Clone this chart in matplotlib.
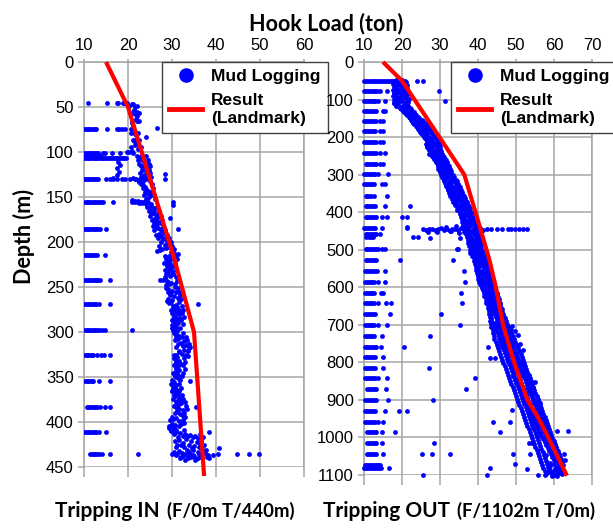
import matplotlib
matplotlib.use("Agg")
import matplotlib.pyplot as plt
from matplotlib.lines import Line2D

plt.rcParams["font.family"] = ["Liberation Sans", "DejaVu Sans"]

# ------------------------------------------------------------------ data
x_ticks_in = [10, 20, 30, 40, 50, 60]
y_ticks_in = [0, 50, 100, 150, 200, 250, 300, 350, 400, 450]
x_ticks_out = [10, 20, 30, 40, 50, 60, 70]
y_ticks_out = [0, 100, 200, 300, 400, 500, 600, 700, 800, 900, 1000, 1100]

# Landmark result (red line)
in_line_depth = [0, 50, 220, 300, 460]
in_line_load = [15, 20, 30.6, 35, 37.3]
out_line_depth = [0, 50, 300, 450, 527, 600, 700, 800, 900, 950, 1000, 1102]
out_line_load = [15, 20, 36.4, 40.8, 43.0, 44.7, 46.6, 49.5, 53.0, 56.0, 58.5, 63.4]

# Mud logging, tripping IN : connection rows (depth, loads)
in_conn = [
    (46, [10.8, 15.3, 17.4, 17.8, 18.8, 19.2, 19.7]),
    (74, [10.0, 10.4, 10.8, 11.2, 11.6, 12.0, 12.4, 12.8, 15.3, 17.4, 18.0, 18.6, 19.3]),
    (101, [10.0, 10.4, 10.8, 11.2, 11.6, 12.0, 12.4, 12.8, 13.2, 14.4, 14.8, 16.3, 18.2, 21.1]),
    (104, [10.0, 10.4, 10.8, 11.2, 11.6, 12.0, 12.4, 12.8, 13.2, 13.6]),
    (107, [10.0, 10.4, 10.8, 11.2, 11.6, 12.0, 12.4, 12.8, 13.2, 13.6, 14.0, 14.4, 14.8,
           15.2, 15.6, 16.0, 16.4, 16.8, 17.2, 17.6, 18.0, 18.4, 18.8, 19.2, 19.6]),
    (130, [10.0, 10.4, 10.8, 11.2, 11.6, 12.0, 12.4, 12.8, 13.2, 15.1, 15.9, 16.7, 17.4,
           18.6, 19.3, 20.5, 21.6, 22.7, 23.5, 24.2, 28.4]),
    (156, [10.2, 10.6, 11.0, 11.4, 11.8, 12.2, 12.6, 13.0, 13.4, 13.8, 14.4, 16.7, 20.8,
           21.5, 22.3, 23.0, 23.8, 24.2, 30.3]),
    (186, [10.0, 10.4, 10.8, 11.2, 11.6, 12.0, 12.4, 12.8, 13.2, 13.6, 15.1]),
    (214, [10.0, 10.4, 10.8, 11.2, 11.6, 12.0, 12.4, 12.9, 14.8]),
    (242, [10.0, 10.4, 10.8, 11.2, 11.6, 12.0, 12.4, 12.8, 13.2, 13.6, 15.8]),
    (269, [10.0, 10.4, 10.8, 11.2, 11.6, 12.0, 12.4, 12.8, 13.3, 15.8]),
    (298, [10.2, 10.6, 11.0, 11.4, 11.8, 12.2, 12.6, 13.0, 13.3, 14.0, 14.8, 21.0]),
    (326, [10.2, 10.6, 11.0, 11.4, 11.8, 12.0, 12.9, 13.8, 14.5, 15.9]),
    (354, [10.2, 10.6, 11.0, 11.4, 11.8, 12.1, 13.4, 15.9]),
    (383, [10.6, 11.0, 11.4, 11.8, 12.2, 12.6, 12.9, 13.6, 14.8, 15.9]),
    (411, [10.0, 10.4, 10.8, 11.2, 11.6, 12.0, 12.4, 12.8, 13.3, 15.0]),
    (436, [11.4, 11.8, 12.2, 12.6, 13.0, 13.4, 14.2, 15.9, 22.2, 29.9]),
]

# Mud logging, tripping IN : main trend (depth, loads)
in_trend = [
    (47, [20.8, 21.2]), (50, [21.6]), (53, [21.4]), (55, [22.0]), (58, [21.7]), (60, [22.1]),
    (63, [21.8]), (66, [22.0]), (68, [20.9]), (71, [21.2]), (73, [26.5]), (74, [20.6]),
    (76, [21.0]), (78, [21.5]), (80, [21.7]), (83, [24.0]), (85, [21.9]), (88, [21.3]),
    (90, [22.0]), (92, [21.5]), (95, [22.6]), (97, [22.3]), (99, [21.0]), (100, [19.7, 20.3]),
    (103, [23.1]), (105, [22.8]), (106, [23.5]), (108, [22.9]), (110, [23.3]), (111, [17.8]),
    (112, [23.8]), (114, [23.6, 18.2]), (115, [24.1]), (117, [23.9]), (118, [17.4]),
    (119, [24.3]), (121, [24.0]), (122, [18.0]), (124, [28.4]), (125, [23.7]), (126, [17.6]),
    (127, [24.4]), (129, [21.2, 16.7]), (130, [21.8]), (131, [22.3]), (133, [22.6]),
    (135, [23.1]), (137, [23.4]), (139, [23.9]), (141, [24.1]), (143, [24.6]), (145, [24.2]),
    (147, [24.8]), (149, [25.0]), (151, [24.5]), (153, [20.8]), (154, [21.6, 22.2]),
    (155, [22.8, 23.4]), (156, [23.9, 24.5]), (157, [23.2, 22.6]), (158, [25.2, 24.0]),
    (159, [30.3]), (160, [25.3]), (162, [25.8]), (164, [25.1]), (166, [26.0]), (168, [25.6]),
    (170, [26.4]), (172, [26.9]), (173, [29.5]), (174, [25.9]), (176, [26.3]), (178, [27.0]),
    (180, [26.6]), (182, [25.7]), (184, [26.8]), (185, [31.4]), (186, [27.3]), (188, [27.8]),
    (190, [28.2]), (191, [27.1]), (193, [27.6]), (195, [28.5]), (197, [28.0]), (199, [28.8]),
    (201, [29.1]), (203, [28.4]), (205, [29.4]), (207, [28.7]), (209, [27.2]), (210, [26.6]),
    (211, [29.8]), (212, [30.5]), (213, [31.4]), (214, [30.0]), (216, [29.3]), (218, [30.2]),
    (220, [29.6]), (222, [29.0]), (224, [29.5]), (226, [28.8]), (228, [29.8]), (230, [29.3]),
    (232, [29.9]), (234, [29.1]), (236, [30.3]), (238, [29.6]), (240, [28.4]), (242, [27.3, 27.9]),
    (244, [29.0]), (246, [29.8]), (248, [28.7]), (250, [30.6]), (252, [29.2]), (254, [30.1]),
    (256, [31.0]), (258, [29.5]), (260, [30.4]), (262, [31.3]), (264, [30.0]), (266, [28.9]),
    (268, [29.4]), (269, [36.0]), (270, [30.8]), (272, [31.2]), (274, [30.4]), (276, [31.6]),
    (278, [30.9]), (280, [31.5]), (282, [30.6]), (284, [31.8]), (286, [31.1]), (288, [30.5]),
    (290, [31.4]), (292, [30.0]), (294, [30.8]), (296, [29.9]), (298, [30.3]), (299, [31.2]),
    (302, [31.0]), (304, [31.6]), (306, [32.2]), (308, [31.3]), (310, [32.8]), (312, [32.0]),
    (314, [33.2]), (316, [32.5]), (318, [33.9]), (320, [32.8]), (322, [31.5]), (324, [32.3]),
    (326, [30.4]), (327, [33.7]), (328, [31.2]), (330, [30.6]), (332, [31.7]), (334, [30.9]),
    (336, [32.1]), (338, [31.4]), (340, [30.8]), (342, [31.6]), (344, [31.1]), (346, [30.6]),
    (348, [31.3]), (350, [31.0]), (352, [31.5]), (354, [34.1]), (355, [30.5]), (357, [30.2]),
    (359, [31.0]), (361, [30.4]), (363, [30.8]), (365, [30.1]), (367, [30.9]), (369, [31.4]),
    (371, [30.7]), (373, [31.5]), (375, [31.9]), (377, [31.2]), (379, [32.0]), (381, [31.3]),
    (383, [35.4, 30.8]), (385, [31.7]), (387, [32.4]), (389, [31.1]), (391, [31.9]),
    (393, [32.6]), (395, [31.0]), (397, [30.3]), (399, [31.6]), (401, [32.8]), (403, [30.6]),
    (405, [29.9]), (406, [30.5]), (407, [29.4]), (408, [30.2]), (409, [31.0]), (410, [29.8]),
    (411, [38.3, 30.9]), (412, [31.8]), (413, [33.0]), (414, [34.2]), (415, [35.3, 33.6]),
    (416, [32.4]), (417, [34.8]), (418, [36.0]), (419, [33.1]), (420, [31.7]), (421, [34.4]),
    (422, [35.7]), (423, [32.6]), (424, [36.4]), (425, [33.9]), (426, [31.2]), (427, [35.1]),
    (428, [32.8]), (429, [34.6, 40.7]), (430, [36.8]), (431, [33.3]), (432, [31.6]),
    (433, [35.8]), (434, [37.5, 32.2]), (435, [34.0, 40.4]), (436, [36.2, 31.1, 44.7, 47.6, 49.8]),
    (437, [33.5, 38.1, 39.3]), (438, [35.0, 32.4]), (439, [36.6, 34.3]), (440, [31.9, 33.7]),
    (441, [35.5]),
]

# further tripping-IN readings filling the width of the trend band
in_trend_band = [
    (49, [20.3, 22.0]), (57, [20.8, 22.4]), (65, [21.0, 22.5]), (79, [20.7, 22.2]),
    (87, [21.1, 22.6]), (94, [20.6, 22.9]), (104, [22.1, 24.0]), (109, [22.3, 24.5]),
    (113, [22.6, 24.8]), (116, [22.9, 25.0]), (120, [23.2, 24.7]), (123, [22.8, 25.1]),
    (128, [23.0, 25.3]), (132, [23.4, 24.9]), (136, [22.9, 25.4]), (140, [23.3, 25.6]),
    (144, [23.8, 25.2]), (148, [23.6, 25.9]), (152, [24.0, 26.1]), (161, [24.4, 26.7]),
    (165, [24.8, 27.1]), (169, [25.2, 26.9]), (171, [24.9, 27.4]), (175, [25.5, 27.8]),
    (179, [25.8, 27.5]), (183, [26.1, 28.0]), (187, [25.9, 28.5]), (192, [26.4, 28.9]),
    (196, [26.9, 29.4]), (200, [27.4, 29.7]), (204, [27.0, 30.1]), (208, [27.8, 30.4]),
    (215, [28.3, 30.9]), (219, [28.6, 31.1]), (223, [28.2, 30.6]), (227, [28.9, 30.4]),
    (231, [28.5, 30.8]), (235, [28.7, 30.2]), (239, [28.3, 30.9]), (243, [28.8, 31.2]),
    (247, [29.3, 30.7]), (251, [28.6, 31.4]), (255, [29.1, 31.6]), (259, [29.6, 31.9]),
    (263, [29.2, 32.0]), (267, [29.8, 31.7]), (271, [30.2, 32.2]), (275, [29.7, 32.5]),
    (279, [30.1, 32.3]), (283, [30.4, 32.7]), (287, [29.9, 32.1]), (291, [30.6, 32.4]),
    (295, [30.3, 31.9]), (301, [30.5, 32.6]), (305, [30.9, 33.1]), (309, [30.6, 33.5]),
    (313, [31.3, 33.8]), (317, [31.0, 34.2]), (321, [31.6, 33.6]), (325, [30.8, 33.2]),
    (329, [30.5, 32.8]), (333, [30.9, 33.0]), (337, [30.4, 32.6]), (341, [31.0, 32.9]),
    (345, [30.3, 32.4]), (349, [30.7, 32.2]), (353, [30.1, 31.9]), (358, [29.8, 31.7]),
    (362, [30.3, 32.0]), (366, [29.9, 31.6]), (370, [30.5, 32.3]), (374, [30.2, 32.6]),
    (378, [30.8, 32.9]), (382, [30.4, 33.2]), (386, [31.1, 33.4]), (390, [30.6, 32.8]),
    (394, [30.1, 33.0]), (398, [29.6, 32.4]), (402, [30.0, 32.0]), (404, [29.3, 31.5]),
    (409, [29.7, 32.8]), (413, [30.4, 36.3]), (417, [31.3, 37.0]), (421, [30.7, 36.6]),
    (425, [32.1, 37.3]), (428, [30.9, 36.1]), (431, [34.8, 37.8]), (433, [30.5, 33.9]),
    (435, [32.9, 36.9]), (437, [30.8, 34.7]), (439, [32.0, 37.9]), (440, [35.9, 38.4]),
    (442, [33.0, 35.2]),
]

# Mud logging, tripping OUT : connection rows (depth, loads)
out_conn = [
    (50, [10.0, 10.5, 11.0, 11.5, 12.0, 12.5, 13.0, 13.5, 14.0, 14.5, 15.0, 15.5, 16.0,
          16.5, 17.0, 17.5, 18.0, 18.5, 19.0, 19.5, 24.0, 25.6]),
    (77, [10.0, 10.5, 11.0, 11.5, 12.0, 12.5, 13.0, 13.5, 14.2, 16.0, 29.8]),
    (104, [10.0, 10.5, 11.0, 11.5, 12.0, 12.5, 13.0, 13.8, 15.5, 31.3]),
    (130, [10.0, 10.5, 11.0, 11.5, 12.0, 12.5, 13.2, 15.1, 15.6]),
    (157, [10.0, 10.5, 11.0, 11.5, 12.0, 12.5, 13.2, 14.2, 15.1]),
    (184, [10.0, 10.5, 11.0, 11.5, 12.0, 12.5, 12.9, 14.2, 15.1]),
    (212, [10.0, 10.5, 11.0, 11.5, 12.0, 12.5, 13.2, 14.2, 15.1]),
    (243, [10.0, 10.5, 11.0, 11.5, 12.0, 12.5, 13.2, 14.2, 15.5]),
    (272, [10.4, 10.9, 11.4, 11.9, 12.4, 12.8, 13.2, 14.2, 15.1]),
    (298, [10.0, 10.5, 11.0, 11.5, 12.0, 12.5, 12.9, 13.8, 16.4]),
    (326, [10.0, 10.5, 11.0, 11.5, 12.0, 12.5, 14.7, 15.5]),
    (356, [10.4, 10.9, 11.4, 11.9, 12.5, 16.0]),
    (383, [10.4, 10.9, 11.4, 11.9, 12.4, 12.9, 15.5, 22.1]),
    (412, [10.4, 10.9, 11.4, 11.9, 12.4, 12.8, 13.2, 14.7, 16.0, 19.9, 21.2]),
    (443, [10.0, 10.5, 11.0, 11.5, 12.0, 12.5, 12.9, 14.7, 21.2]),
    (459, [10.4, 10.9, 11.4, 11.9, 12.4, 12.8, 13.2, 14.2]),
    (465, [10.6, 11.2, 11.8, 12.4, 23.0, 24.3]),
    (498, [10.4, 10.9, 11.4, 11.9, 12.4, 12.8, 13.2, 13.6, 14.7, 15.5, 34.8]),
    (527, [10.4, 10.9, 11.4, 11.9, 12.4, 12.8, 13.2, 19.5, 33.5]),
    (557, [10.3, 10.8, 11.3, 11.8, 12.3, 12.8, 13.3, 15.5, 36.3]),
    (587, [10.3, 10.8, 11.3, 11.8, 12.2, 12.5, 13.8, 15.5, 36.6]),
    (614, [10.3, 10.8, 11.3, 11.8, 12.2, 12.5, 14.5, 15.1, 35.4]),
    (643, [10.3, 10.8, 11.3, 11.8, 12.2, 12.5, 13.8, 15.9, 17.2, 35.7]),
    (671, [10.3, 10.8, 11.3, 11.8, 12.3, 12.9, 16.8, 30.2]),
    (700, [10.3, 10.8, 11.3, 11.8, 12.2, 12.5, 13.8, 16.0, 35.3]),
    (729, [10.3, 10.8, 11.3, 11.8, 12.2, 12.5, 14.7, 27.4]),
    (758, [10.3, 10.8, 11.3, 11.8, 12.3, 12.8, 13.2, 14.5, 20.4]),
    (787, [10.3, 10.8, 11.3, 11.8, 12.3, 12.9, 15.1]),
    (814, [10.3, 10.8, 11.3, 11.8, 12.3, 12.9, 14.9, 27.2]),
    (842, [10.3, 10.8, 11.3, 11.8, 12.3, 12.9, 13.8, 16.0, 39.2]),
    (871, [10.8, 11.3, 11.8, 12.3, 12.8, 13.2, 15.8, 36.8]),
    (900, [10.3, 10.8, 11.3, 11.8, 12.3, 12.8, 13.2, 16.2, 28.2]),
    (929, [10.3, 10.8, 11.3, 11.8, 12.3, 12.9, 15.5, 19.3, 21.4]),
    (958, [10.3, 10.8, 11.3, 11.8, 12.3, 12.9, 13.8, 15.1, 44.0, 48.3]),
    (986, [10.8, 11.3, 11.8, 12.3, 12.8, 13.2, 14.7, 18.2, 45.8]),
    (1015, [10.8, 11.3, 11.8, 12.3, 12.8, 13.2, 14.7, 28.4]),
    (1044, [10.8, 11.3, 11.8, 12.3, 12.8, 13.2, 15.1, 25.2, 27.8, 32.6]),
    (1074, [10.3, 10.8, 11.3, 11.8, 12.3, 12.8, 13.3, 13.8, 14.2]),
    (1081, [10.0, 10.5, 11.0, 11.5, 12.0, 12.5, 13.0, 13.5, 14.0, 14.6, 16.7, 43.2]),
    (1100, [25.4, 42.4]),
]

# Mud logging, tripping OUT : main trend (depth, loads)
out_trend = [
    (48, [18.5, 20.0]), (52, [19.2, 17.6]), (56, [20.1]), (60, [18.8, 19.6]), (64, [20.4]),
    (68, [18.2, 19.9]), (72, [19.4]), (76, [20.6, 18.7]), (80, [19.1]), (84, [20.3, 17.9]),
    (88, [19.7]), (92, [18.6, 20.8]), (96, [19.3]), (100, [20.1, 18.4]), (104, [19.6]),
    (108, [20.5, 17.8]), (112, [19.0]), (116, [20.2, 18.3]), (120, [19.5]), (124, [20.9, 19.8]),
    (128, [21.3]), (132, [21.8, 20.7]), (136, [22.3]), (140, [21.6, 22.8]), (144, [22.1]),
    (148, [23.0, 22.5]), (152, [23.4]), (156, [22.6, 24.1]), (160, [23.8, 25.0]),
    (164, [24.5, 23.2]), (168, [25.3, 24.0]), (172, [24.8, 25.9]), (176, [24.2, 26.1]),
    (180, [25.5]), (184, [26.4, 24.9]), (188, [25.8]), (192, [26.7, 25.2]), (196, [26.2]),
    (200, [27.0, 25.9]), (204, [26.6, 27.8]), (208, [27.3]), (212, [28.2, 26.8]),
    (216, [27.6, 29.0]), (220, [28.4]), (224, [27.1, 28.9]), (228, [28.0]), (232, [27.4, 29.3]),
    (236, [28.7]), (240, [27.9, 29.6]), (244, [28.5]), (248, [29.2, 28.0]), (252, [29.8]),
    (256, [28.8, 30.2]), (260, [29.5]), (264, [30.6, 29.9]), (268, [30.1]), (272, [31.0, 29.7]),
    (276, [30.4]), (280, [31.3, 30.0]), (284, [30.8]), (288, [29.9, 31.5]), (292, [30.7]),
    (296, [31.8, 30.3]), (300, [31.2]), (304, [32.0, 30.8]), (308, [31.5]), (312, [32.6, 31.1]),
    (316, [33.2]), (320, [32.3, 33.9]), (324, [31.8]), (328, [32.9, 34.4]), (332, [33.4]),
    (336, [32.5, 34.0]), (340, [33.7]), (344, [34.6, 32.8]), (348, [33.3]), (352, [34.9, 33.8]),
    (356, [34.3, 32.6]), (360, [35.1]), (364, [33.9, 35.6]), (368, [34.7]), (372, [35.4, 33.5]),
    (376, [36.0]), (380, [34.8, 35.9]), (384, [36.4]), (388, [35.5, 37.0]), (392, [36.1]),
    (396, [36.8, 35.2]), (400, [37.3]), (404, [36.2, 37.7]), (408, [36.9]), (412, [37.5, 36.4]),
    (416, [38.0]), (420, [36.7, 37.8]), (424, [37.2]), (428, [38.3, 36.9]), (432, [37.6]),
    (436, [38.0, 37.1]), (438, [34.2]), (440, [31.5, 21.2]), (442, [39.8]),
    (443, [30.3, 35.5]), (444, [27.2, 33.2, 37.0]), (445, [25.6, 29.5, 31.8, 39.1, 42.3, 43.4,
    44.9, 46.2, 47.9, 48.8, 49.8, 50.8, 51.8, 52.8]), (446, [28.0, 34.0, 36.2, 40.6]),
    (447, [26.4, 31.0, 37.7]), (448, [28.8, 34.7, 41.4]), (449, [32.5, 38.4]),
    (450, [33.0, 39.5]), (452, [26.8, 29.2, 38.2]), (454, [36.8]), (455, [35.0]),
    (456, [38.6, 37.4]), (460, [39.2]), (464, [37.8, 39.9]), (468, [38.5]), (470, [27.4, 35.3]),
    (472, [39.6, 37.5]), (476, [38.9]), (480, [40.2, 38.1]), (484, [39.4]), (488, [38.3, 40.5]),
    (492, [39.0]), (496, [40.0, 38.7]), (498, [34.4]), (500, [39.5]), (504, [38.4, 40.3]),
    (508, [39.8]), (512, [40.6, 39.1]), (516, [39.5]), (520, [40.9, 39.9]), (524, [40.2]),
    (528, [41.2, 39.6]), (532, [40.6]), (536, [41.7, 40.0]), (540, [41.1]), (544, [42.2, 40.5]),
    (548, [41.5]), (552, [40.1, 42.6]), (556, [41.0]), (560, [42.0, 40.4]), (564, [41.3]),
    (568, [40.2, 42.5]), (572, [41.8]), (576, [40.7, 42.9]), (580, [41.6]), (584, [42.4, 40.9]),
    (588, [41.9]), (592, [43.0, 41.2]), (596, [42.3]), (600, [41.7, 43.4]), (604, [42.6]),
    (608, [43.8, 42.1]), (612, [42.9]), (616, [42.4, 44.0]), (620, [43.2]), (624, [44.3, 42.7]),
    (628, [43.6]), (632, [42.9, 44.6]), (636, [43.9]), (640, [43.2, 45.0]), (644, [44.2]),
    (648, [43.6, 45.3]), (652, [44.5]), (656, [43.8, 45.6]), (660, [44.8]), (664, [44.0, 45.9]),
    (668, [45.1]), (672, [44.4, 46.2]), (676, [45.4]), (680, [44.7, 46.0]), (684, [45.6]),
    (688, [44.9, 46.5]), (692, [45.8]), (696, [45.2, 46.9]), (700, [46.1]),
    (704, [45.0, 47.2, 49.0]), (708, [46.4]), (712, [45.5, 47.6]), (716, [46.8, 49.8]),
    (720, [45.8, 47.9]), (724, [46.5]), (728, [47.3, 45.6, 50.4]), (732, [46.9]),
    (736, [48.0, 46.2]), (740, [47.4]), (744, [46.6, 48.4]), (748, [47.8]),
    (752, [46.9, 48.9, 51.0]), (756, [47.5]), (760, [48.5, 46.4, 42.7]), (764, [47.9]),
    (768, [49.1, 47.2, 51.8]), (772, [48.3]), (776, [47.6, 49.5]), (780, [48.8]),
    (784, [47.8, 50.0]), (788, [48.9, 43.2, 44.5]), (792, [49.4]), (796, [48.1, 50.3]),
    (800, [49.2]), (804, [48.4, 50.6]), (808, [49.7]), (812, [48.8, 51.0]), (816, [49.9]),
    (820, [49.0, 51.3]), (824, [50.2]), (828, [49.4, 51.6]), (832, [50.5]), (836, [49.3, 51.9]),
    (840, [50.8]), (844, [49.8, 52.3]), (848, [51.1]), (852, [50.1, 52.6, 55.0]), (856, [51.4]),
    (860, [50.5, 52.9]), (864, [51.7]), (868, [50.8, 53.2, 54.6]), (872, [52.0]),
    (876, [51.1, 53.5]), (880, [52.3]), (884, [51.5, 53.8]), (888, [52.6]), (892, [51.9, 54.1]),
    (896, [52.9]), (900, [52.2, 54.4]), (904, [53.2]), (908, [52.6, 54.8, 56.3]), (912, [53.6]),
    (916, [52.9, 55.2]), (920, [54.0]), (924, [53.3, 55.6]), (928, [54.4, 48.9]),
    (932, [53.7, 56.0]), (936, [54.8]), (940, [54.1, 56.4]), (944, [55.2]), (948, [54.4, 56.8]),
    (952, [55.6]), (956, [54.8, 57.2]), (960, [56.0]), (964, [55.2, 57.6]), (968, [56.4]),
    (972, [55.5, 58.0]), (976, [56.8]), (980, [55.9, 58.4]), (984, [57.2, 60.7, 63.8]),
    (988, [56.3]), (992, [57.6, 58.8]), (996, [56.7]), (1000, [58.0, 59.3]), (1004, [57.1]),
    (1008, [58.4, 59.8]), (1012, [57.5]), (1016, [58.8, 54.1, 53.3]), (1020, [57.9, 60.2]),
    (1024, [59.2]), (1028, [58.3, 60.6]), (1032, [59.6]), (1036, [58.7, 61.0]), (1040, [60.0]),
    (1044, [59.1, 61.4, 62.6, 49.3, 53.7]), (1048, [60.4, 58.0]), (1052, [59.5, 61.7]),
    (1056, [60.8]), (1060, [59.9, 62.0, 62.9]), (1064, [60.4]), (1068, [58.9, 61.3]),
    (1072, [60.1, 49.7]), (1076, [59.0, 61.6]), (1080, [60.6]), (1084, [58.6, 61.1, 52.8]),
    (1088, [59.9]), (1092, [58.2, 60.9]), (1096, [59.4, 61.9]), (1100, [57.6, 60.2, 55.8]),
]

# further tripping-OUT readings filling the width of the trend band
out_trend_band = [
    (50, [17.4, 20.8]), (54, [18.0, 21.0]), (58, [17.6, 20.4]), (62, [18.3, 21.2]),
    (66, [17.9, 20.7]), (70, [18.5, 21.4]), (74, [17.7, 20.2]), (78, [18.1, 21.0]),
    (82, [17.8, 20.9]), (86, [18.4, 21.5]), (90, [17.5, 20.6]), (94, [18.2, 21.1]),
    (98, [18.9, 21.8]), (102, [18.0, 21.3]), (106, [18.6, 21.6]), (110, [17.9, 20.8]),
    (114, [18.4, 21.2]), (118, [18.8, 21.7]), (122, [19.4, 22.0]), (126, [19.9, 22.4]),
    (130, [20.2, 22.6]), (134, [20.6, 23.1]), (138, [21.0, 23.4]), (142, [21.4, 23.7]),
    (146, [21.8, 24.2]), (150, [22.0, 24.6]), (154, [22.3, 25.3]), (158, [22.7, 25.6]),
    (162, [23.0, 26.0]), (166, [23.4, 26.3]), (170, [23.6, 26.6]), (174, [23.9, 27.0]),
    (178, [24.3, 26.8]), (182, [24.6, 27.3]), (186, [24.8, 27.5]), (190, [25.1, 27.9]),
    (194, [25.5, 28.2]), (198, [25.8, 28.4]), (202, [26.1, 28.9]), (206, [26.3, 29.3]),
    (210, [26.6, 29.5]), (214, [26.9, 29.8]), (218, [26.4, 29.4]), (222, [26.7, 29.9]),
    (226, [26.5, 29.6]), (230, [26.8, 30.1]), (234, [27.0, 29.8]), (238, [27.3, 30.3]),
    (242, [27.6, 30.0]), (246, [27.2, 30.5]), (250, [27.8, 30.8]), (254, [28.1, 31.0]),
    (258, [28.4, 31.3]), (262, [28.7, 31.6]), (266, [29.0, 31.9]), (270, [29.3, 31.7]),
    (274, [29.6, 32.1]), (278, [29.4, 32.4]), (282, [29.8, 32.0]), (286, [29.5, 32.6]),
    (290, [29.9, 32.9]), (294, [30.1, 32.5]), (298, [30.4, 33.0]), (302, [30.2, 33.4]),
    (306, [30.6, 33.8]), (310, [30.9, 33.5]), (314, [31.2, 34.1]), (318, [31.0, 34.5]),
    (322, [31.4, 34.2]), (326, [31.7, 34.8]), (330, [31.5, 35.0]), (334, [31.9, 35.3]),
    (338, [32.2, 35.0]), (342, [32.0, 35.5]), (346, [32.5, 35.8]), (350, [32.3, 35.4]),
    (354, [32.8, 36.0]), (358, [33.0, 36.3]), (362, [33.3, 36.6]), (366, [33.1, 36.2]),
    (370, [33.6, 36.9]), (374, [33.9, 37.1]), (378, [34.2, 36.8]), (382, [34.0, 37.3]),
    (386, [34.5, 37.6]), (390, [34.8, 37.9]), (394, [34.6, 37.4]), (398, [35.1, 38.0]),
    (402, [35.4, 38.3]), (406, [35.2, 37.9]), (410, [35.7, 38.4]), (414, [35.5, 38.7]),
    (418, [35.9, 38.2]), (422, [36.1, 38.6]), (426, [35.8, 39.0]), (430, [36.3, 38.8]),
    (434, [36.0, 39.2]), (438, [36.5, 39.5]), (441, [35.8, 38.9, 40.4]), (452, [36.4, 39.6]),
    (458, [36.9, 40.1]), (462, [37.3, 39.8]), (466, [37.0, 40.3]), (474, [37.4, 40.6]),
    (478, [37.8, 40.0]), (482, [37.3, 40.8]), (486, [37.9, 40.5]), (490, [37.6, 40.9]),
    (494, [38.1, 40.6]), (502, [37.9, 41.0]), (506, [38.3, 40.7]), (510, [38.0, 41.2]),
    (514, [38.6, 40.9]), (518, [38.3, 41.5]), (522, [38.9, 41.3]), (526, [39.2, 41.8]),
    (530, [39.0, 42.1]), (534, [39.4, 42.4]), (538, [39.2, 42.0]), (542, [39.7, 42.7]),
    (546, [39.5, 42.3]), (550, [39.8, 42.8]), (554, [39.6, 43.0]), (558, [40.0, 42.6]),
    (562, [39.7, 43.1]), (566, [40.1, 43.3]), (570, [39.9, 42.9]), (574, [40.3, 43.4]),
    (578, [40.0, 43.6]), (582, [40.4, 43.2]), (586, [40.2, 43.7]), (590, [40.6, 44.0]),
    (594, [40.9, 43.8]), (598, [41.2, 44.2]), (602, [41.0, 44.5]), (606, [41.4, 44.1]),
    (610, [41.7, 44.6]), (614, [41.5, 44.9]), (618, [41.9, 45.1]), (622, [41.6, 44.8]),
    (626, [42.0, 45.2]), (630, [42.3, 45.5]), (634, [42.1, 45.0]), (638, [42.5, 45.4]),
    (642, [42.2, 45.7]), (646, [42.6, 45.9]), (650, [42.9, 45.5]), (654, [42.7, 46.0]),
    (658, [43.0, 46.2]), (662, [42.8, 45.8]), (666, [43.2, 46.3]), (670, [43.0, 46.6]),
    (674, [43.4, 46.4]), (678, [43.1, 46.8]), (682, [43.5, 47.0]), (686, [43.3, 46.7]),
    (690, [43.1, 47.4]), (694, [44.2, 46.8]), (698, [43.5, 47.7]), (702, [44.6, 47.0]),
    (706, [43.3, 48.2]), (710, [44.8, 47.5]), (714, [43.9, 48.6]), (718, [45.1, 47.3]),
    (722, [44.0, 48.8]), (726, [45.4, 47.9]), (730, [44.3, 49.1]), (734, [45.6, 48.3]),
    (738, [44.2, 49.4]), (742, [45.9, 48.6]), (746, [44.7, 49.8]), (750, [46.1, 48.9]),
    (754, [44.9, 50.2]), (758, [46.5, 49.2]), (762, [45.3, 50.5]), (766, [46.8, 49.6]),
    (770, [45.6, 50.9]), (774, [47.1, 49.9]), (778, [45.8, 51.2]), (782, [47.4, 50.3]),
    (786, [46.1, 51.5]), (790, [47.7, 50.6]), (794, [46.4, 51.8]), (798, [48.0, 51.0]),
    (802, [46.7, 52.1]), (806, [48.3, 51.3]), (810, [47.0, 52.4]), (814, [48.6, 51.6]),
    (818, [47.3, 52.7]), (822, [48.9, 51.9]), (826, [47.6, 53.0]), (830, [49.2, 52.2]),
    (834, [47.9, 53.3]), (838, [49.5, 52.5]), (842, [48.2, 53.6]), (846, [49.8, 52.8]),
    (850, [48.5, 53.9]), (854, [50.1, 53.1]), (858, [48.8, 54.2]), (862, [50.4, 53.4]),
    (866, [49.1, 54.5]), (870, [50.7, 53.7]), (874, [49.4, 54.8]), (878, [51.0, 54.0]),
    (882, [49.7, 55.1]), (886, [51.3, 54.3]), (890, [50.0, 55.4]), (894, [51.6, 54.6]),
    (898, [50.3, 55.7]), (902, [51.9, 54.9]), (906, [50.6, 56.0]), (910, [52.2, 55.2]),
    (914, [50.9, 56.3]), (918, [52.5, 55.5]), (922, [51.2, 56.6]), (926, [52.8, 55.8]),
    (930, [51.5, 56.9]), (934, [53.1, 56.1]), (938, [51.8, 57.2]), (942, [53.4, 56.4]),
    (946, [52.1, 57.5]), (950, [53.7, 56.7]), (954, [52.4, 57.8]), (958, [54.0, 57.0]),
    (962, [52.7, 58.1]), (966, [54.3, 57.3]), (970, [53.0, 58.4]), (974, [54.6, 57.6]),
    (978, [53.3, 58.7]), (982, [54.9, 57.9]), (986, [53.6, 59.0]), (990, [55.2, 58.2]),
    (994, [53.9, 59.3]), (998, [55.5, 58.5]), (1002, [54.2, 59.6]), (1006, [55.8, 58.8]),
    (1010, [54.5, 59.9]), (1014, [56.1, 59.1]), (1018, [54.8, 60.2]), (1022, [56.4, 59.4]),
    (1026, [55.1, 60.5]), (1030, [56.7, 59.7]), (1034, [55.4, 60.8]), (1038, [57.0, 60.0]),
    (1042, [55.7, 61.1]), (1046, [57.3, 60.3]), (1050, [56.0, 61.4]), (1054, [57.6, 60.6]),
    (1058, [56.3, 61.7]), (1062, [57.9, 60.9]), (1066, [56.6, 62.0]), (1070, [58.2, 61.2]),
    (1074, [56.9, 62.3]), (1078, [58.5, 61.5]), (1082, [57.2, 62.1]), (1086, [58.8, 61.8]),
    (1090, [57.5, 62.4]), (1094, [59.1, 61.0]), (1098, [57.8, 62.2]), (1102, [59.4, 60.8]),
]

labels_legend = ["Mud Logging", "Result\n(Landmark)"]
x_label = "Hook Load (ton)"
y_label = "Depth (m)"
panel_titles = [("Tripping IN", "(F/0m T/440m)"), ("Tripping OUT", "(F/1102m T/0m)")]

# ------------------------------------------------------------------ style
BLUE = "#0000FF"
RED = "#FF0000"
GRID = "#A6A6A6"
TITLEFONT = "Lato"
W, H = 613, 528
DOT = 12


def flatten(*groups):
    d, l = [], []
    for rows in groups:
        for depth, loads in rows:
            for v in loads:
                d.append(depth)
                l.append(v)
    return d, l


fig = plt.figure(figsize=(W / 100, H / 100), dpi=100)


def make_axes(px_left, px_right, px_top, px_bottom):
    return fig.add_axes([px_left / W, 1 - px_bottom / H,
                         (px_right - px_left) / W, (px_bottom - px_top) / H])


def style(ax, xt, yt, xmax, ymax):
    ax.set_xlim(10, xmax)
    ax.set_ylim(ymax, 0)
    ax.set_xticks(xt)
    ax.set_yticks(yt)
    ax.grid(True, color=GRID, linewidth=1.1)
    ax.set_axisbelow(True)
    for s in ["left", "top", "right"]:
        ax.spines[s].set_color(GRID)
        ax.spines[s].set_linewidth(1.1)
    ax.spines["bottom"].set_visible(False)
    ax.tick_params(axis="x", which="both", top=True, bottom=True, labeltop=True,
                   labelbottom=False, colors=GRID, labelcolor="black",
                   labelsize=12, width=1.1, length=2.2, pad=4.5)
    ax.tick_params(axis="y", which="both", left=True, right=False, colors=GRID,
                   labelcolor="black", labelsize=12, length=4.3, width=1.1, pad=3)
    for t in ax.xaxis.get_major_ticks():
        t.tick1line.set_markersize(7)


def add_legend(ax, x_axes):
    handles = [Line2D([], [], marker="o", color=BLUE, linestyle="none", markersize=9.5),
               Line2D([], [], color=RED, linewidth=3.5)]
    leg = ax.legend(handles, labels_legend, loc="upper left",
                    bbox_to_anchor=(x_axes, 1.0), borderaxespad=0,
                    frameon=True, fancybox=False, edgecolor="#404040",
                    framealpha=1, handlelength=1.9, handletextpad=0.5,
                    borderpad=0.42, labelspacing=0.5,
                    prop={"weight": "bold", "size": 12.5})
    leg.get_frame().set_linewidth(1.0)
    leg.set_zorder(10)
    return leg


# ---------------- left panel: tripping IN
ax1 = make_axes(84, 304, 62, 467)
style(ax1, x_ticks_in, y_ticks_in, 60, 450)
d, l = flatten(in_conn, in_trend, in_trend_band)
ax1.scatter(l, d, s=DOT, color=BLUE, linewidths=0, zorder=3)
ax1.plot(in_line_load, in_line_depth, color=RED, linewidth=3, zorder=4,
         clip_on=False, solid_capstyle="butt")
add_legend(ax1, (162 - 84) / 220)

# ---------------- right panel: tripping OUT
ax2 = make_axes(364, 592, 62, 475)
style(ax2, x_ticks_out, y_ticks_out, 70, 1100)
d, l = flatten(out_conn, out_trend, out_trend_band)
ax2.scatter(l, d, s=DOT, color=BLUE, linewidths=0, zorder=3, clip_on=False)
ax2.plot(out_line_load, out_line_depth, color=RED, linewidth=3, zorder=4,
         clip_on=False, solid_capstyle="butt")
add_legend(ax2, (451 - 364) / 228)

# ---------------- texts
fig.text(326 / W, 1 - 30 / H, x_label, ha="center", va="baseline",
         fontsize=15.5, fontweight="bold", family=TITLEFONT)
fig.text(24 / W, 1 - 236 / H, y_label, ha="center", va="center", rotation=90,
         fontsize=15.5, fontweight="bold", family=TITLEFONT)

fig.text(55 / W, 1 - 517 / H, panel_titles[0][0], ha="left", va="baseline",
         fontsize=15, fontweight="bold", family=TITLEFONT)
fig.text(167 / W, 1 - 517 / H, panel_titles[0][1], ha="left", va="baseline",
         fontsize=13.3, fontweight="bold", family=TITLEFONT)
fig.text(323 / W, 1 - 517 / H, panel_titles[1][0], ha="left", va="baseline",
         fontsize=15, fontweight="bold", family=TITLEFONT)
fig.text(457 / W, 1 - 517 / H, panel_titles[1][1], ha="left", va="baseline",
         fontsize=13.3, fontweight="bold", family=TITLEFONT)

fig.savefig("out.png", dpi=100, facecolor="white")
